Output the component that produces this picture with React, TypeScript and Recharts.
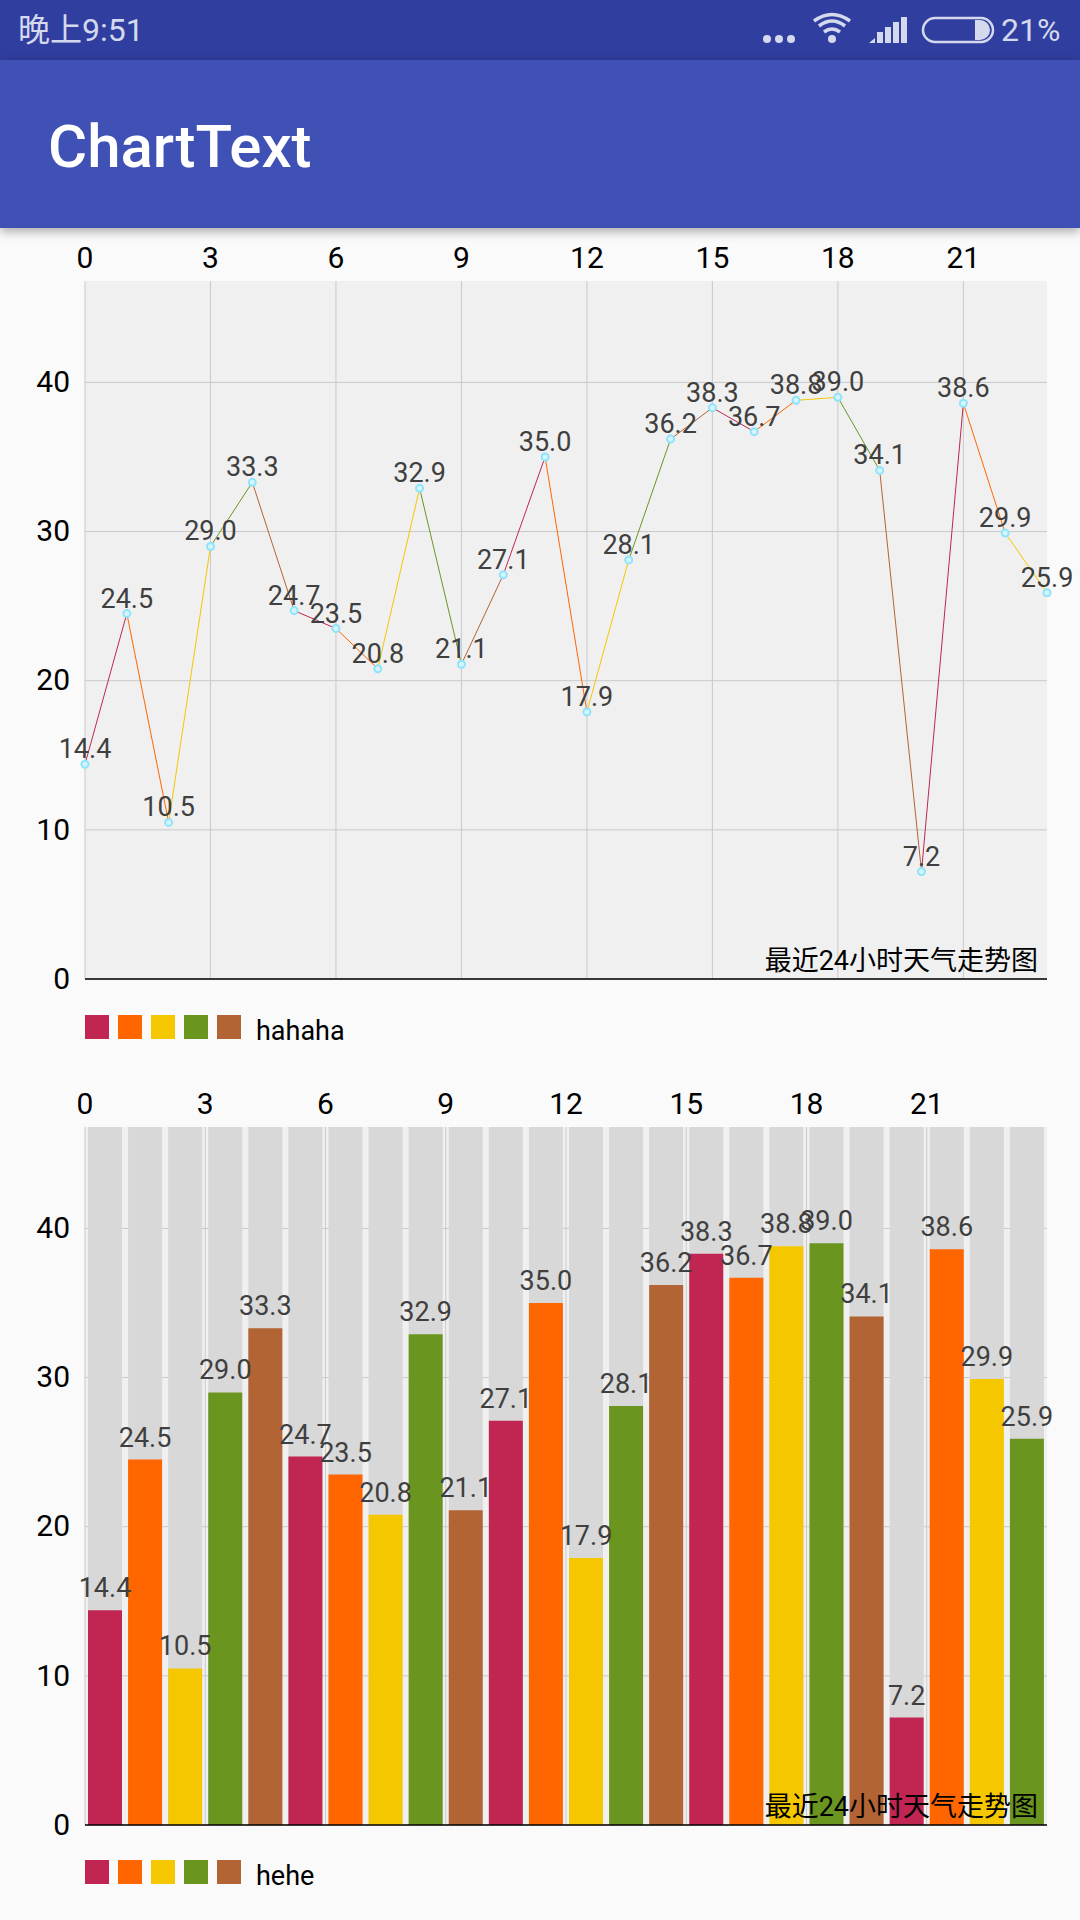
import React from 'react';
import { LineChart, Line, BarChart, Bar, XAxis, YAxis, CartesianGrid, Cell, LabelList, Legend, ReferenceLine } from 'recharts';

const hours = [0,1,2,3,4,5,6,7,8,9,10,11,12,13,14,15,16,17,18,19,20,21,22,23];
const temps = [14.4,24.5,10.5,29.0,33.3,24.7,23.5,20.8,32.9,21.1,27.1,35.0,17.9,28.1,36.2,38.3,36.7,38.8,39.0,34.1,7.2,38.6,29.9,25.9];
const colors = ['#c12552','#ff6600','#f5c700','#6a961f','#b36435'];
const xTicks = [0,3,6,9,12,15,18,21];
const yTicks = [0,10,20,30,40];
const yMax = 46.8;
const lineName = 'hahaha';
const barName = 'hehe';
const description = '最近24小时天气走势图';

const FONT = 'Roboto, "Noto Sans CJK SC", sans-serif';
const STATUS = '#d5d9ee';

const lineData = hours.map((h, i) => {
  const row: Record<string, number | null> = { hour: h, value: temps[i] };
  colors.forEach((_, c) => {
    const seg = i % colors.length;
    const prev = (i - 1 + colors.length) % colors.length;
    row['c' + c] = (seg === c && i < temps.length - 1) || (prev === c && i > 0) ? temps[i] : null;
  });
  return row;
});
const barData = hours.map((h, i) => ({ hour: h + 0.5, value: temps[i] }));

const fmt = (v: any) => Number(v).toFixed(1);

const LegendBox = ({ name }: { name: string }) => (
  <div style={{ display: 'flex', alignItems: 'center', height: 24, fontFamily: FONT, fontSize: 27, color: '#000' }}>
    {colors.map((c) => (
      <span key={c} style={{ width: 24, height: 24, background: c, marginRight: 9, display: 'block' }} />
    ))}
    <span style={{ marginLeft: 6, position: 'relative', top: 4 }}>{name}</span>
  </div>
);

const axisTick = { fill: '#000', fontSize: 30, fontFamily: FONT };
const yAxisTick = { ...axisTick, dy: -1 };
const W = 1080;
const H = 810;

const Dot = (p: any) => <circle key={p.index} cx={p.cx} cy={p.cy} r={3.5} fill="#d4f5ff" stroke="#8fe3fa" strokeWidth={2} />;

export default function App() {
  return (
    <div style={{ position: 'absolute', left: 0, top: 0, width: 1080, height: 1920, background: '#fafafa', overflow: 'hidden', fontFamily: FONT }}>
      <div style={{ position: 'absolute', left: 0, top: 0, width: 1080, height: 60, background: '#303f9f', color: STATUS, fontSize: 32 }}>
        <span style={{ position: 'absolute', left: 18, top: 11, lineHeight: '38px' }}>晚上9:51</span>
        <svg style={{ position: 'absolute', left: 0, top: 0 }} width="1080" height="60" viewBox="0 0 1080 60">
          <g fill={STATUS}>
            <circle cx="767" cy="39" r="4" /><circle cx="779" cy="39" r="4" /><circle cx="791" cy="39" r="4" />
            <circle cx="832" cy="39" r="4" />
            <path d="M869 43 L875 38 V43 Z" />
            <rect x="877" y="32" width="6" height="11" />
            <rect x="885" y="27" width="6" height="16" />
            <rect x="893" y="22" width="6" height="21" />
            <rect x="901" y="17" width="6" height="26" />
            <path d="M975 20 H980 A10 10 0 0 1 980 40 H975 Z" />
          </g>
          <g fill="none" stroke={STATUS} strokeWidth="3.5">
            <path d="M824 32 Q832 26 840 32" /><path d="M819 26 Q832 16 845 26" /><path d="M814 21 Q832 8 850 21" />
            <rect x="923" y="18" width="70" height="24" rx="12" strokeWidth="2.5" />
          </g>
        </svg>
        <span style={{ position: 'absolute', left: 1001, top: 11, lineHeight: '38px' }}>21%</span>
      </div>
      <div style={{ position: 'absolute', left: 0, top: 60, width: 1080, height: 168, background: '#3f51b5', boxShadow: '0 3px 10px rgba(0,0,0,0.35)', zIndex: 2 }}>
        <span style={{ position: 'absolute', left: 48, top: 51, color: '#fff', fontSize: 60, fontWeight: 500 }}>ChartText</span>
      </div>

      <div style={{ position: 'absolute', left: 0, top: 229 }}>
        <LineChart width={W} height={H} data={lineData} margin={{ top: 0, right: 33, bottom: 0, left: 0 }}>
          <CartesianGrid fill="#f0f0f0" stroke="#c9c9c9" strokeWidth={1} horizontalValues={yTicks} verticalValues={xTicks} />
          <XAxis dataKey="hour" type="number" orientation="top" domain={[0, 23]} ticks={xTicks} height={52} axisLine={false} tickLine={false} tickSize={0} tickMargin={13} tick={axisTick} interval={0} />
          <YAxis type="number" domain={[0, yMax]} ticks={yTicks} width={85} axisLine={false} tickLine={false} tickSize={0} tickMargin={15} tick={yAxisTick} interval={0} />
          {colors.map((c, i) => (
            <Line key={c} dataKey={'c' + i} stroke={c} strokeWidth={1} dot={false} isAnimationActive={false} connectNulls={false} legendType="none" />
          ))}
          <Line dataKey="value" stroke="none" dot={Dot} isAnimationActive={false} legendType="none">
            <LabelList dataKey="value" position="top" offset={6} formatter={fmt} fill="#3f3f3f" fontSize={27} fontFamily={FONT} />
          </Line>
          <ReferenceLine y={0} stroke="#000" strokeWidth={1.5} label={{ value: description, position: 'insideBottomRight', offset: 9, fill: '#000', fontSize: 27, fontFamily: FONT }} />
          <Legend verticalAlign="bottom" height={60} content={() => <LegendBox name={lineName} />} wrapperStyle={{ left: 85, top: 786, width: 600 }} />
        </LineChart>
      </div>

      <div style={{ position: 'absolute', left: 0, top: 1075 }}>
        <BarChart width={W} height={H} data={barData} margin={{ top: 0, right: 33, bottom: 0, left: 0 }}>
          <CartesianGrid fill="#f0f0f0" stroke="#c9c9c9" strokeWidth={1} horizontalValues={yTicks} verticalValues={xTicks} />
          <XAxis dataKey="hour" type="number" orientation="top" domain={[0, 24]} ticks={xTicks} height={52} axisLine={false} tickLine={false} tickSize={0} tickMargin={13} tick={axisTick} interval={0} />
          <YAxis type="number" domain={[0, yMax]} ticks={yTicks} width={85} axisLine={false} tickLine={false} tickSize={0} tickMargin={15} tick={yAxisTick} interval={0} />
          <Bar dataKey="value" barSize={34} background={{ fill: '#d8d8d8' }} isAnimationActive={false} legendType="none">
            {barData.map((_, i) => <Cell key={i} fill={colors[i % colors.length]} />)}
            <LabelList dataKey="value" position="top" offset={13} formatter={fmt} fill="#3f3f3f" fontSize={27} fontFamily={FONT} />
          </Bar>
          <ReferenceLine y={0} stroke="#000" strokeWidth={1.5} label={{ value: description, position: 'insideBottomRight', offset: 9, fill: '#000', fontSize: 27, fontFamily: FONT }} />
          <Legend verticalAlign="bottom" height={60} content={() => <LegendBox name={barName} />} wrapperStyle={{ left: 85, top: 785, width: 600 }} />
        </BarChart>
      </div>
    </div>
  );
}
